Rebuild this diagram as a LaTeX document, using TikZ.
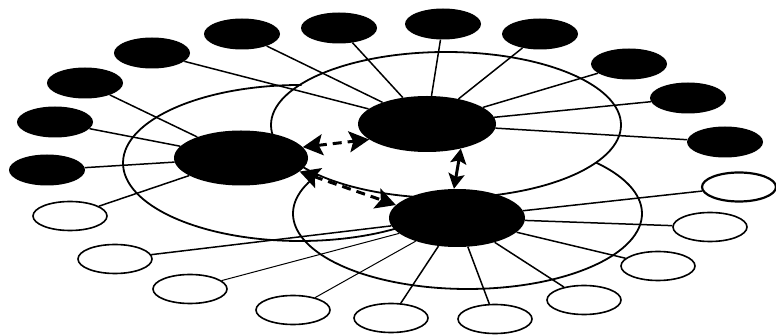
\documentclass[tikz,border=0pt]{standalone}
\usetikzlibrary{arrows.meta,shapes.geometric}
\begin{document}
\begin{tikzpicture}[x=1pt,y=-1pt,
  hub/.style={ellipse, fill=black, inner sep=0pt},
  satb/.style={ellipse, fill=black, minimum width=76pt, minimum height=31pt, inner sep=0pt},
  satw/.style={ellipse, draw=black, fill=white, line width=1.6pt, minimum width=74pt, minimum height=29pt, inner sep=0pt},
  spoke/.style={line width=1.5pt},
  thinspoke/.style={line width=1pt},
  ring/.style={line width=1.8pt},
  bigtip/.tip={Stealth[length=20pt,width=21pt,inset=4pt]},
  smalltip/.tip={Stealth[length=15pt,width=16pt,inset=3pt]},
  link/.style={line width=3pt, dash pattern=on 9pt off 6pt, bigtip-bigtip},
  shortlink/.style={line width=3pt, smalltip-smalltip}]
\path[use as bounding box, fill=white] (0,0) rectangle (776,336);
% rings
\draw[ring] (446,125) ellipse[x radius=175, y radius=73];
\draw[ring] (300,163) ++(270.5:177 and 78) arc[start angle=270.5, end angle=55, x radius=177, y radius=78];
\draw[ring] (467.5,213.6) ++(-42.6:174.5 and 75.4) arc[start angle=-42.6, end angle=211, x radius=174.5, y radius=75.4];
% hubs
\node[hub, minimum width=134pt, minimum height=55pt] (A) at (241,158) {};
\node[hub, minimum width=138pt, minimum height=56pt] (B) at (427,124) {};
\node[hub, minimum width=136pt, minimum height=58pt] (C) at (457,218) {};
% black satellites
\node[satb] (s1) at (47,170) {};
\node[satb] (s2) at (55,122) {};
\node[satb] (s3) at (85,83) {};
\node[satb] (s4) at (152,53) {};
\node[satb] (s5) at (242,34) {};
\node[satb] (s6) at (339,28) {};
\node[satb] (s7) at (443,24) {};
\node[satb] (s8) at (540,34) {};
\node[satb] (s9) at (629,64) {};
\node[satb] (s10) at (688,98) {};
\node[satb] (s11) at (725,142) {};
% white satellites
\node[satw, line width=2.2pt] (w1) at (739,187) {};
\node[satw] (w2) at (710,227) {};
\node[satw] (w3) at (658,266) {};
\node[satw] (w4) at (584,300) {};
\node[satw] (w5) at (495,319) {};
\node[satw] (w6) at (391,318) {};
\node[satw] (w7) at (293,310) {};
\node[satw] (w8) at (190,289) {};
\node[satw] (w9) at (115,259) {};
\node[satw] (w10) at (70,216) {};
% spokes
\foreach \s in {s1,s2,s3,w10} \draw[spoke] (A) -- (\s);
\foreach \s in {s4,s5,s6,s7,s8,s9,s10,s11} \draw[spoke] (B) -- (\s);
\foreach \s in {w1,w2,w3,w4,w5,w6,w9} \draw[spoke] (C) -- (\s);
\foreach \s in {w7,w8} \draw[thinspoke] (C) -- (\s);
% links
\draw[link] (A.10) -- (B.195);
\draw[link] (A.-13) -- (C.168);
\draw[shortlink] (B.-36) -- (C.96);
\end{tikzpicture}
\end{document}
